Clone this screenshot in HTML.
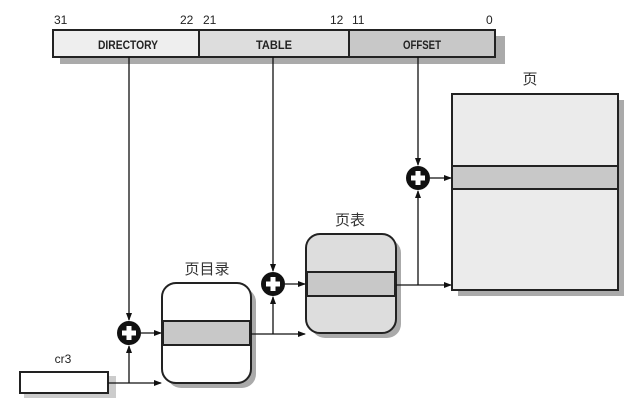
<!DOCTYPE html>
<html><head><meta charset="utf-8"><style>
html,body{margin:0;padding:0;background:#fff;}
svg{display:block;}
text{font-family:"Liberation Sans","Noto Sans CJK SC",sans-serif;}
</style></head><body>
<svg width="640" height="403" viewBox="0 0 640 403" xmlns="http://www.w3.org/2000/svg">
<defs>
<marker id="a" markerWidth="8" markerHeight="8" refX="7" refY="4" orient="auto" markerUnits="userSpaceOnUse">
<path d="M0,1 L8,4 L0,7 z" fill="#111"/></marker>
<g id="plus"><circle r="12" fill="#111"/><rect x="-7" y="-2.5" width="14" height="5" fill="#fff"/><rect x="-2.5" y="-7" width="5" height="14" fill="#fff"/></g>
</defs>
<rect x="60" y="36" width="445" height="28" fill="#aaa"/>
<rect x="53" y="30" width="146" height="27" fill="#eee" stroke="#222" stroke-width="2"/>
<rect x="199" y="30" width="150" height="27" fill="#ddd" stroke="#222" stroke-width="2"/>
<rect x="349" y="30" width="146" height="27" fill="#c8c8c8" stroke="#222" stroke-width="2"/>
<g font-size="12" font-weight="bold" text-anchor="middle" fill="#222">
<text x="128" y="49" textLength="60" lengthAdjust="spacingAndGlyphs">DIRECTORY</text><text x="274" y="49" textLength="36" lengthAdjust="spacingAndGlyphs">TABLE</text><text x="422" y="49" textLength="38" lengthAdjust="spacingAndGlyphs">OFFSET</text></g>
<g font-size="12" fill="#222">
<text x="54" y="24">31</text><text x="180" y="24">22</text><text x="203" y="24">21</text>
<text x="330" y="24">12</text><text x="352" y="24">11</text><text x="486" y="24">0</text></g>
<rect x="458" y="100" width="166" height="196" fill="#aaa"/>
<rect x="452" y="94" width="166" height="196" fill="#ebebeb" stroke="#222" stroke-width="2"/>
<rect x="452" y="166" width="166" height="23" fill="#c8c8c8" stroke="#222" stroke-width="2"/>
<text x="530" y="84" font-size="15" text-anchor="middle" fill="#333">页</text>
<rect x="311" y="239" width="90" height="99" rx="14" fill="#aaa"/>
<rect x="306" y="234" width="90" height="99" rx="14" fill="#ddd" stroke="#222" stroke-width="2"/>
<rect x="307" y="272" width="88" height="24" fill="#c8c8c8" stroke="#222" stroke-width="2"/>
<text x="350" y="225" font-size="15" text-anchor="middle" fill="#333">页表</text>
<rect x="167" y="288" width="89" height="100" rx="14" fill="#aaa"/>
<rect x="162" y="283" width="89" height="100" rx="14" fill="#fff" stroke="#222" stroke-width="2"/>
<rect x="163" y="321" width="87" height="24" fill="#c8c8c8" stroke="#222" stroke-width="2"/>
<text x="207" y="274" font-size="15" text-anchor="middle" fill="#333">页目录</text>
<rect x="24" y="376" width="92" height="22" fill="#ccc"/>
<rect x="20" y="372" width="88" height="21" fill="#fff" stroke="#222" stroke-width="2"/>
<text x="63" y="363" font-size="12" text-anchor="middle" fill="#222">cr3</text>
<g stroke="#111" stroke-width="1.3" fill="none">
<line x1="129" y1="57" x2="129" y2="320" marker-end="url(#a)"/>
<line x1="108" y1="383" x2="161" y2="383" marker-end="url(#a)"/>
<line x1="129" y1="383" x2="129" y2="346" marker-end="url(#a)"/>
<line x1="141" y1="333" x2="161" y2="333" marker-end="url(#a)"/>
<line x1="273" y1="57" x2="273" y2="271" marker-end="url(#a)"/>
<line x1="251" y1="334" x2="305" y2="334" marker-end="url(#a)"/>
<line x1="273" y1="334" x2="273" y2="297" marker-end="url(#a)"/>
<line x1="285" y1="284" x2="305" y2="284" marker-end="url(#a)"/>
<line x1="418" y1="57" x2="418" y2="165" marker-end="url(#a)"/>
<line x1="396" y1="285" x2="451" y2="285" marker-end="url(#a)"/>
<line x1="418" y1="285" x2="418" y2="191" marker-end="url(#a)"/>
<line x1="430" y1="178" x2="451" y2="178" marker-end="url(#a)"/>
</g>
<use href="#plus" x="129" y="333"/>
<use href="#plus" x="273" y="284"/>
<use href="#plus" x="418" y="178"/>
</svg>
</body></html>
